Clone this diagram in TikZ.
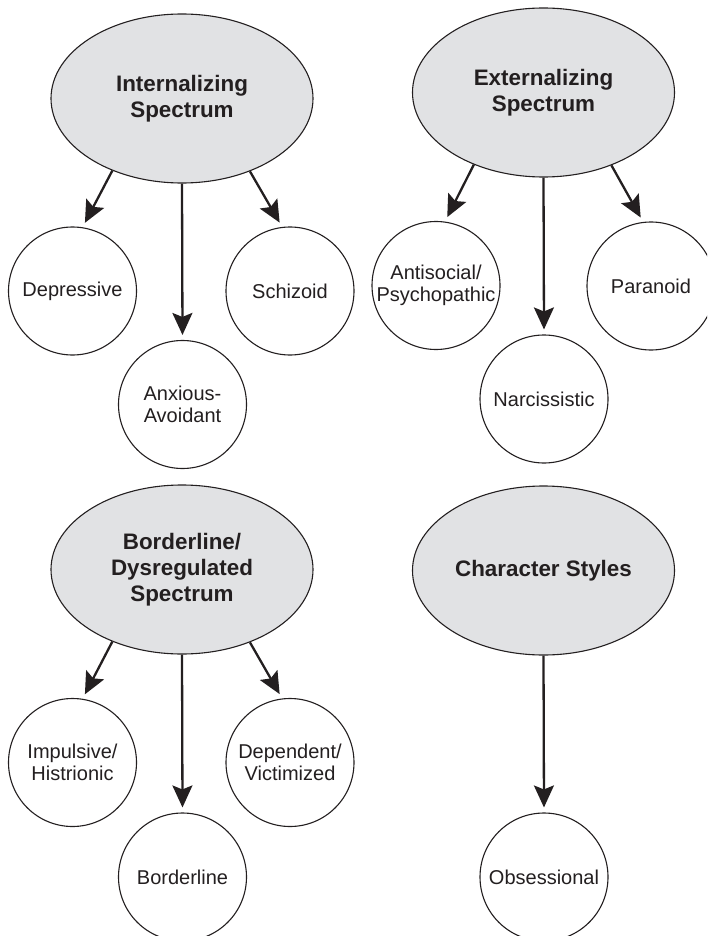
\documentclass[tikz,border=0pt]{standalone}
\usepackage{fontspec}
\setmainfont{Liberation Sans}
\usetikzlibrary{shapes.geometric,arrows.meta}
\definecolor{ink}{HTML}{231F20}
\definecolor{shade}{HTML}{E1E2E4}
\tikzset{
  spectrum/.style={ellipse, draw=ink, line width=0.55pt, fill=shade, minimum width=131pt, minimum height=84.5pt, inner sep=0pt, align=center, text=ink, font=\fontsize{11.2}{13}\selectfont\bfseries},
  style circ/.style={circle, draw=ink, line width=0.55pt, fill=white, minimum size=64pt, inner sep=0pt, align=center, text=ink, font=\fontsize{10}{11}\selectfont},
  arr/.style={draw=ink, line width=1.15pt, -{Stealth[length=11pt, width=10pt, inset=2pt]}, shorten >=2.5pt}
}
\begin{document}
\begin{tikzpicture}[x=0.5pt, y=-0.5pt]
\clip (0,0) rectangle (707,936);
\useasboundingbox (0,0) rectangle (707,936);
% group 1
\node[spectrum] (e1) at (182,98.5) {Internalizing\\Spectrum};
\node[style circ] (dep) at (72.5,291) {Depressive};
\node[style circ] (anx) at (182.5,404.5) {Anxious-\\Avoidant};
\node[style circ] (sch) at (290,291) {Schizoid};
\draw[arr] (e1.226.8) -- (dep.81.5);
\draw[arr] (e1.south) -- (anx.north);
\draw[arr] (e1.313.2) -- (sch.97);
% group 2
\node[spectrum] (e2) at (543.5,92.5) {Externalizing\\Spectrum};
\node[style circ] (ant) at (436,285.5) {Antisocial/\\Psychopathic};
\node[style circ] (nar) at (544,399) {Narcissistic};
\node[style circ] (par) at (651,286) {Paranoid};
\draw[arr] (e2.226.6) -- (ant.82.5);
\draw[arr] (e2.south) -- (nar.north);
\draw[arr] (e2.313.4) -- (par.97);
% group 3
\node[spectrum] (e3) at (182,569.5) {Borderline/\\Dysregulated\\Spectrum};
\node[style circ] (imp) at (72.5,762.5) {Impulsive/\\Histrionic};
\node[style circ] (bor) at (182.5,877) {Borderline};
\node[style circ] (dpv) at (290,762.5) {Dependent/\\Victimized};
\draw[arr] (e3.226.8) -- (imp.81.5);
\draw[arr] (e3.south) -- (bor.north);
\draw[arr] (e3.313.2) -- (dpv.97);
% group 4
\node[spectrum] (e4) at (543.5,570.5) {Character Styles};
\node[style circ] (obs) at (544,877) {Obsessional};
\draw[arr] (e4.south) -- (obs.north);
\end{tikzpicture}
\end{document}
